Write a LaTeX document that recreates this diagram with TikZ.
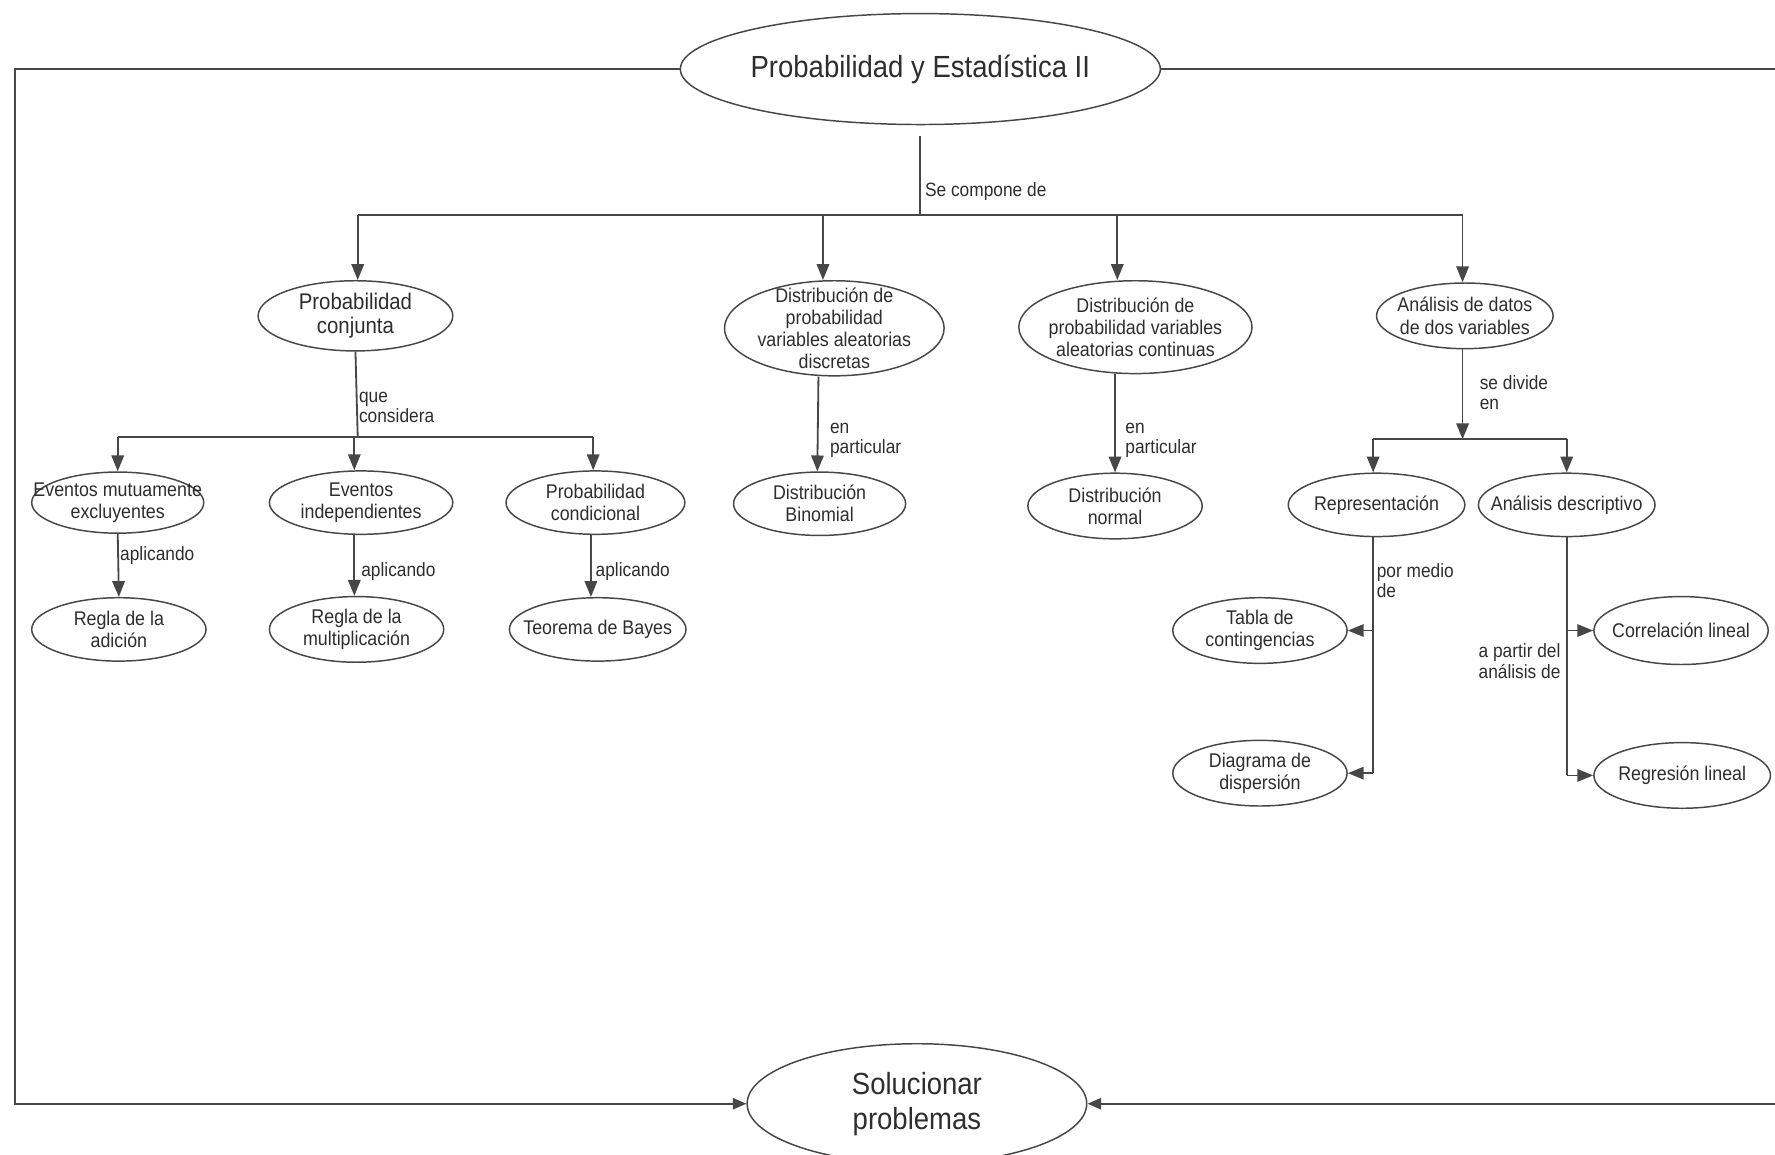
\documentclass[tikz,border=0pt]{standalone}
\usepackage{fontspec}
\setmainfont{Liberation Sans}[FakeStretch=0.9]
\usetikzlibrary{shapes.geometric,arrows.meta,calc}
\definecolor{ln}{HTML}{474747}
\definecolor{tx}{HTML}{2E2E2E}
\tikzset{
 ell/.style={ellipse, draw=ln, line width=1.3pt, inner sep=-100pt, align=center, text=tx, font=\fontsize{17.5}{19.5}\selectfont},
 conn/.style={draw=ln, line width=1.6pt},
 arr/.style={conn, -{Triangle[length=14pt,width=11pt]}},
 lbl/.style={anchor=west, align=left, inner sep=0pt, text=tx, font=\fontsize{17}{18}\selectfont},
 big/.style={font=\fontsize{27}{31}\selectfont},
}
\begin{document}
\begin{tikzpicture}[x=1pt,y=-1pt]
\useasboundingbox[fill=white] (0,0) rectangle (1568,1020);
% nodes
\node[ell, big, minimum width=424pt, minimum height=98pt] (main) at (813,61) {Probabilidad y Estadística II};
\node[ell, big, minimum width=300pt, minimum height=106pt] (sol) at (810,975) {Solucionar\\problemas};
\node[ell, font=\fontsize{20}{21}\selectfont, minimum width=172pt, minimum height=62pt] (pc) at (314,279) {Probabilidad\\conjunta};
\node[ell, minimum width=194pt, minimum height=84pt] (dd) at (737,290) {Distribución de\\probabilidad\\variables aleatorias\\discretas};
\node[ell, minimum width=206pt, minimum height=82pt] (dc) at (1003,289) {Distribución de\\probabilidad variables\\aleatorias continuas};
\node[ell, minimum width=156pt, minimum height=58pt] (ad) at (1294,279) {Análisis de datos\\de dos variables};
\node[ell, minimum width=152pt, minimum height=54pt] (ev1) at (104,444) {Eventos mutuamente\\excluyentes};
\node[ell, minimum width=162pt, minimum height=56pt] (ev2) at (319,444) {Eventos\\independientes};
\node[ell, minimum width=158pt, minimum height=56pt] (ev3) at (526,444) {Probabilidad\\condicional};
\node[ell, minimum width=154pt, minimum height=56pt] (r1) at (105,556) {Regla de la\\adición};
\node[ell, minimum width=154pt, minimum height=58pt] (r2) at (315,556) {Regla de la\\multiplicación};
\node[ell, minimum width=156pt, minimum height=56pt] (r3) at (528,556) {Teorema de Bayes};
\node[ell, minimum width=152pt, minimum height=56pt] (bin) at (724,445) {Distribución\\Binomial};
\node[ell, minimum width=154pt, minimum height=58pt] (nor) at (985,447) {Distribución\\normal};
\node[ell, minimum width=156pt, minimum height=56pt] (rep) at (1216,446) {Representación};
\node[ell, minimum width=156pt, minimum height=56pt] (desc) at (1384,446) {Análisis descriptivo};
\node[ell, minimum width=154pt, minimum height=58pt] (tab) at (1113,557) {Tabla de\\contingencias};
\node[ell, minimum width=154pt, minimum height=58pt] (dia) at (1113,683) {Diagrama de\\dispersión};
\node[ell, minimum width=154pt, minimum height=60pt] (cor) at (1485,557) {Correlación lineal};
\node[ell, minimum width=156pt, minimum height=58pt] (reg) at (1486,685) {Regresión lineal};
% coordinates
\coordinate (t0) at (813,120);
\coordinate (t1) at (813,190);
\coordinate (b1) at (316,190);
\coordinate (b2) at (727,190);
\coordinate (b3) at (987,190);
\coordinate (b4) at (1292,190);
\coordinate (lc) at (13,61);
\coordinate (rc) at (1590,61);
\coordinate (p1) at (316,386);
\coordinate (q1) at (104,386);
\coordinate (q2) at (313,386);
\coordinate (q3) at (524,386);
\coordinate (a1) at (1292,388);
\coordinate (s1) at (1213,388);
\coordinate (s2) at (1384,388);
\coordinate (rv) at (1213,683);
\coordinate (rt) at (1213,557);
\coordinate (dv) at (1384,685);
\coordinate (dt) at (1384,557);
% outer frame connectors
\draw[conn, -{Triangle[length=12pt,width=10pt]}] (main.west) -- (lc) |- (sol.west);
\draw[conn, -{Triangle[length=12pt,width=10pt]}] (main.east) -- (rc) |- (sol.east);
% trunk
\draw[conn] (t0) -- (t1);
\draw[conn] (b1) -- (b4);
\node[lbl] (l0) at (817,169) {Se compone de};
\draw[arr] (b1) -- (b1 |- pc.north);
\draw[arr] (b2) -- (b2 |- dd.north);
\draw[arr] (b3) -- (b3 |- dc.north);
\draw[arr] (b4) -- (b4 |- ad.north);
% probabilidad conjunta
\draw[conn] (pc.south) -- (p1);
\node[lbl] (l1) at (317,360) {que\\considera};
\draw[conn] (q1) -- (q3);
\draw[arr] (q1) -- (q1 |- ev1.north);
\draw[arr] (q2) -- (q2 |- ev2.north);
\draw[arr] (q3) -- (q3 |- ev3.north);
\draw[arr] (ev1.south) -- (r1.north);
\node[lbl] (l2) at (106,491) {aplicando};
\draw[arr] ($(ev2.south)+(-6,0)$) -- ($(r2.north)+(-2,0)$);
\node[lbl] (l3) at (319,505) {aplicando};
\draw[arr] ($(ev3.south)+(-4,0)$) -- ($(r3.north)+(-6,0)$);
\node[lbl] (l4) at (526,505) {aplicando};
% distribuciones
\draw[arr] ($(dd.south)+(-14,0)$) -- ($(bin.north)+(-2,0)$);
\node[lbl] (l5) at (733,389) {en\\particular};
\draw[arr] ($(dc.south)+(-18,0)$) -- (nor.north);
\node[lbl] (l6) at (994,389) {en\\particular};
% analisis de datos
\draw[arr] (ad.south -| a1) -- (a1);
\node[lbl] (l7) at (1307,347) {se divide\\en};
\draw[conn] (s1) -- (s2);
\draw[arr] (s1) -- (s1 |- rep.north);
\draw[arr] (s2) -- (s2 |- desc.north);
\draw[conn] (rep.south -| rv) -- (rv);
\node[lbl] (l8) at (1216,513) {por medio\\de};
\draw[arr] (rt) -- (tab.east);
\draw[arr] (rv) -- (dia.east);
\draw[conn] (desc.south -| dv) -- (dv);
\node[lbl] (l9) at (1306,584) {a partir del\\análisis de};
\draw[arr] (dt) -- (cor.west);
\draw[arr] (dv) -- (reg.west);
\end{tikzpicture}
\end{document}
